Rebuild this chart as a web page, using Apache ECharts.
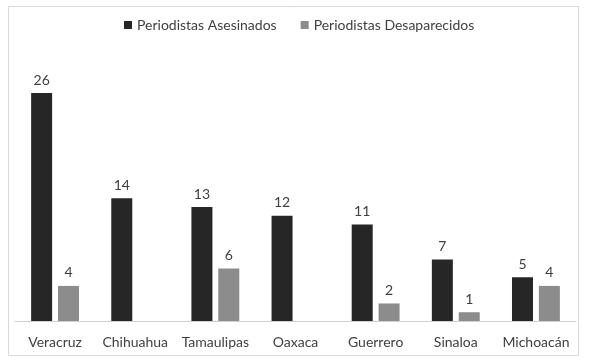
<!DOCTYPE html>
<html><head><meta charset="utf-8">
<script src="https://cdn.jsdelivr.net/npm/echarts@6/dist/echarts.min.js"></script>
<style>html,body{margin:0;padding:0;background:#fff}#c{width:589px;height:361px}</style>
</head><body><div id="c"></div>
<script>
var categories = ['Veracruz','Chihuahua','Tamaulipas','Oaxaca','Guerrero','Sinaloa','Michoacán'];
var asesinados = [26,14,13,12,11,7,5];
var desaparecidos = [4,null,6,null,2,1,4];
var seriesNames = ['Periodistas Asesinados','Periodistas Desaparecidos'];
var FONT = 'Lato';
var chart = echarts.init(document.getElementById('c'), null, {renderer:'canvas'});
chart.setOption({
  animation:false,
  backgroundColor:'#fff',
  graphic:[{type:'rect', shape:{x:8.5,y:6.5,width:570,height:349}, style:{fill:'none', stroke:'#d9d9d9', lineWidth:1}, silent:true}],
  legend:{
    top:13, left:119, icon:'rect', itemWidth:8, itemHeight:8, itemGap:24,
    textStyle:{fontFamily:FONT, fontSize:14, color:'#404040'},
    data:seriesNames
  },
  grid:{left:15, right:13, top:93, bottom:40, containLabel:false},
  xAxis:{type:'category', data:categories,
    axisLine:{lineStyle:{color:'#d0d0d0'}}, axisTick:{show:false},
    axisLabel:{interval:0, fontFamily:FONT, fontSize:14, color:'#404040', margin:14}},
  yAxis:{type:'value', min:0, max:26, show:false, splitLine:{show:false}},
  series:[
    {name:seriesNames[0], type:'bar', data:asesinados, barWidth:21, barGap:'28%',
     itemStyle:{color:'#262626'},
     label:{show:true, position:'top', distance:6, fontFamily:FONT, fontSize:14, color:'#404040'}},
    {name:seriesNames[1], type:'bar', data:desaparecidos, barWidth:21,
     itemStyle:{color:'#8c8c8c'},
     label:{show:true, position:'top', distance:6, fontFamily:FONT, fontSize:14, color:'#404040'}}
  ]
});
</script></body></html>
